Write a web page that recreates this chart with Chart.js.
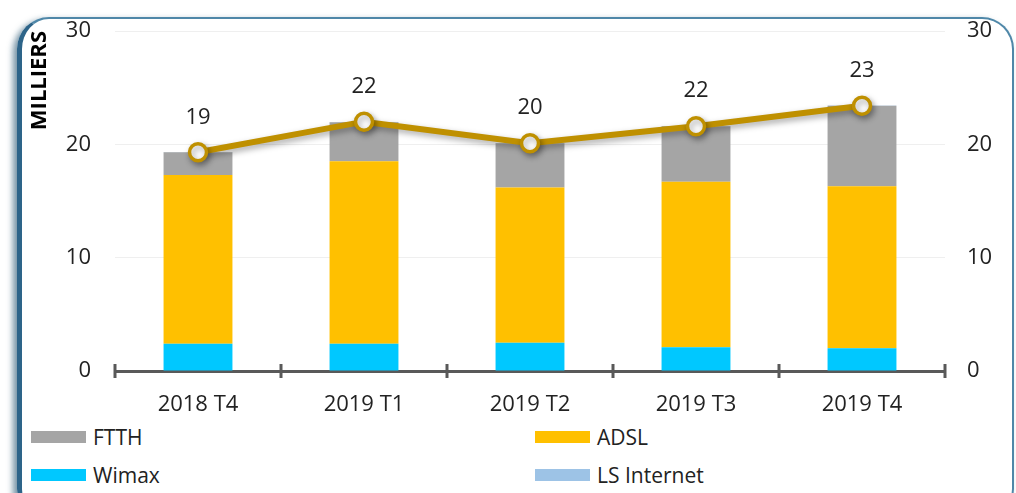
<!DOCTYPE html>
<html>
<head>
<meta charset="utf-8">
<script src="https://cdn.jsdelivr.net/npm/chart.js@4.4.0/dist/chart.umd.min.js"></script>
<style>
    html, body { margin: 0; padding: 0; background: #fff; overflow: hidden; }
    #frame {
        position: absolute; left: 17px; top: 17px; width: 990px; height: 500px;
        border: 2px solid #4f87a8; border-left: 5px solid #2d6489;
        border-radius: 32px; box-shadow: -4px 3px 6px rgba(25, 75, 105, 0.6);
    }
    #wrap { position: absolute; left: 0; top: 0; width: 1016px; height: 420px; }
    .leg { position: absolute; font-family: "Open Sans", sans-serif; font-size: 21px; color: #222; line-height: 24px; }
    .leg span { position: absolute; left: 0; top: 6px; width: 55px; height: 12px; }
    .leg b { font-weight: normal; position: absolute; left: 62px; top: 0; white-space: nowrap; }
</style>
</head>
<body>
<div id="frame"></div>
<div id="wrap"><canvas id="chart" width="1016" height="420"></canvas></div>
<div id="legend"></div>
<script>
const categories = ['2018 T4', '2019 T1', '2019 T2', '2019 T3', '2019 T4'];
const wimax = [2.4, 2.4, 2.5, 2.1, 2.0];
const adsl = [14.9, 16.1, 13.7, 14.6, 14.3];
const ftth = [2.0, 3.45, 3.9, 4.9, 7.1];
const lsInternet = [0.02, 0.02, 0.02, 0.02, 0.02];
const totals = [19.3, 22.0, 20.1, 21.6, 23.4];
const yTicks = [0, 10, 20, 30];

const tickFont = { family: 'Open Sans', size: 22 };
const textColor = '#222';

// petits traits verticaux sur l'axe des x, entre les catégories
const axisTicks = {
    id: 'axisTicks',
    afterDraw(chart) {
        const x = chart.scales.x;
        const ctx = chart.ctx;
        const step = (x.right - x.left) / categories.length;
        ctx.save();
        ctx.strokeStyle = '#595959';
        ctx.lineWidth = 3;
        for (let i = 0; i <= categories.length; i++) {
            const px = Math.round(x.left + i * step);
            ctx.beginPath();
            ctx.moveTo(px, x.top - 7);
            ctx.lineTo(px, x.top + 7);
            ctx.stroke();
        }
        ctx.restore();
    }
};

// ombre sous la courbe du total
const lineShadow = {
    id: 'lineShadow',
    beforeDatasetDraw(chart, args) {
        if (chart.data.datasets[args.index].type !== 'line') return;
        const ctx = chart.ctx;
        ctx.save();
        ctx.shadowColor = 'rgba(0,0,0,0.35)';
        ctx.shadowBlur = 6;
        ctx.shadowOffsetX = 2;
        ctx.shadowOffsetY = 3;
    },
    afterDatasetDraw(chart, args) {
        if (chart.data.datasets[args.index].type !== 'line') return;
        chart.ctx.restore();
    }
};

// étiquettes des totaux au-dessus des points
const totalLabels = {
    id: 'totalLabels',
    afterDatasetsDraw(chart) {
        const idx = chart.data.datasets.findIndex(d => d.type === 'line');
        const meta = chart.getDatasetMeta(idx);
        const ctx = chart.ctx;
        ctx.save();
        ctx.font = '22px "Open Sans"';
        ctx.fillStyle = textColor;
        ctx.textAlign = 'center';
        ctx.textBaseline = 'middle';
        meta.data.forEach((pt, i) => {
            ctx.fillText(Math.round(totals[i]), pt.x, pt.y - 35);
        });
        ctx.restore();
    }
};

const fitY = width => s => {
    s.width = width;
    s.paddingTop = 0;
    s.paddingBottom = 0;
};

const chart = new Chart(document.getElementById('chart'), {
    data: {
        labels: categories,
        datasets: [
            { type: 'line', label: 'Total', data: totals, yAxisID: 'y', order: 0,
              borderColor: '#BF9000', borderWidth: 6, pointRadius: 8.5, pointHoverRadius: 8.5,
              pointBackgroundColor: '#ffffff', pointBorderColor: '#BF9000', pointBorderWidth: 3.5 },
            { type: 'bar', label: 'Wimax', data: wimax, backgroundColor: '#00C8FF', order: 1 },
            { type: 'bar', label: 'ADSL', data: adsl, backgroundColor: '#FFC000', order: 1 },
            { type: 'bar', label: 'FTTH', data: ftth, backgroundColor: '#A5A5A5', order: 1 },
            { type: 'bar', label: 'LS Internet', data: lsInternet, backgroundColor: '#9DC3E6', order: 1 }
        ]
    },
    options: {
        responsive: false,
        animation: false,
        layout: { padding: { top: 31, left: 0, right: 0, bottom: 0 } },
        datasets: { bar: { barPercentage: 0.415, categoryPercentage: 1 } },
        plugins: { legend: { display: false }, tooltip: { enabled: false } },
        scales: {
            x: {
                stacked: true,
                grid: { display: false },
                border: { display: true, color: '#595959', width: 3 },
                ticks: { font: tickFont, color: textColor, padding: 13 },
                afterFit: s => { s.height = 49; }
            },
            y: {
                stacked: true, position: 'left', min: 0, max: 30,
                afterBuildTicks: s => { s.ticks = yTicks.map(v => ({ value: v })); },
                grid: { color: '#efefef', drawTicks: false },
                border: { display: false },
                ticks: { font: tickFont, color: textColor, padding: 24 },
                title: { display: true, text: 'MILLIERS', align: 'end', color: '#000',
                         font: { family: 'Open Sans', size: 22, weight: 'bold' }, padding: { top: 27, bottom: 0 } },
                afterFit: fitY(115)
            },
            y2: {
                position: 'right', min: 0, max: 30,
                afterBuildTicks: s => { s.ticks = yTicks.map(v => ({ value: v })); },
                grid: { display: false, drawTicks: false },
                border: { display: false },
                ticks: { font: tickFont, color: textColor, padding: 22 },
                afterFit: fitY(71)
            }
        }
    },
    plugins: [axisTicks, lineShadow, totalLabels]
});

// légende en deux colonnes
const legendPos = { 'FTTH': [31, 425], 'ADSL': [535, 425], 'Wimax': [31, 463], 'LS Internet': [535, 463] };
const legend = document.getElementById('legend');
['FTTH', 'ADSL', 'Wimax', 'LS Internet'].forEach(name => {
    const ds = chart.data.datasets.find(d => d.label === name);
    const [x, y] = legendPos[name];
    const el = document.createElement('div');
    el.className = 'leg';
    el.style.left = x + 'px';
    el.style.top = y + 'px';
    el.innerHTML = `<span style="background:${ds.backgroundColor}"></span><b>${name}</b>`;
    legend.appendChild(el);
});
</script>
</body>
</html>
